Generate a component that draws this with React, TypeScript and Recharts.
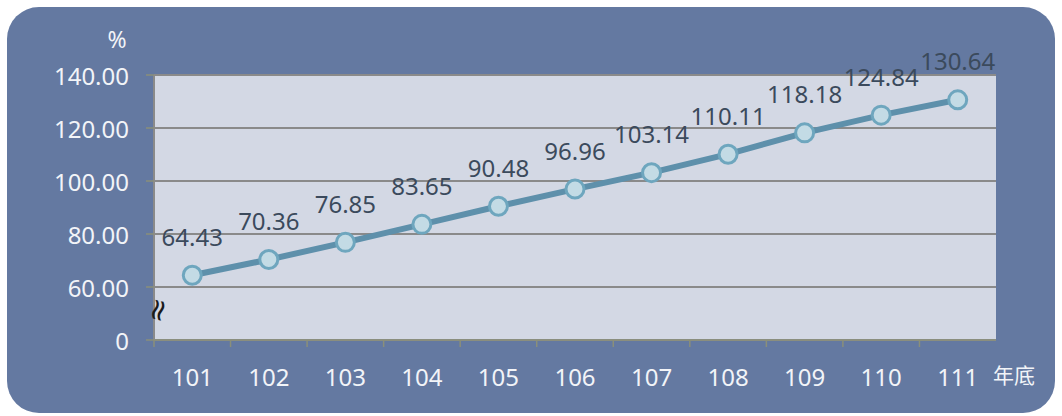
import React from "react";
import { LineChart, Line, XAxis, YAxis, CartesianGrid, LabelList } from "recharts";

const years = ["101", "102", "103", "104", "105", "106", "107", "108", "109", "110", "111"];
const values = [64.43, 70.36, 76.85, 83.65, 90.48, 96.96, 103.14, 110.11, 118.18, 124.84, 130.64];
const yTickLabels = ["0", "60.00", "80.00", "100.00", "120.00", "140.00"];
const yTickValues = [0, 60, 80, 100, 120, 140];

// Broken axis: 0 -> 0, 60 -> 1, then each 20 units -> 1 step
const toScale = (v: number) => (v <= 0 ? 0 : v < 60 ? v / 60 : (v - 40) / 20);

const data = years.map((y, i) => ({ year: y, value: values[i], scaled: toScale(values[i]) }));
const yTicks = yTickValues.map(toScale);

const FONT = "'Noto Sans', 'Open Sans', sans-serif";

const XTick = (props: any) => {
  const { x, payload } = props;
  const band = 842 / years.length;
  const bx = x - band / 2;
  return (
    <g>
      <line x1={bx} y1={340} x2={bx} y2={347} stroke="#8a8f7a" strokeWidth={1.5} />
      <text x={x} y={376} textAnchor="middle" dominantBaseline="central" fill="#f2f4f8" fontSize={24} fontFamily={FONT}>
        {payload.value}
      </text>
    </g>
  );
};

const YTick = (props: any) => {
  const { y, payload } = props;
  const idx = yTicks.indexOf(payload.value);
  return (
    <g>
      <line x1={146} y1={y} x2={154} y2={y} stroke="#8a8f7a" strokeWidth={1.5} />
      <text x={129} y={y} textAnchor="end" dominantBaseline="central" fill="#f2f4f8" fontSize={24} fontFamily={FONT}>
        {yTickLabels[idx]}
      </text>
      {payload.value === 0 ? (
        <text x={157} y={y - 30} textAnchor="middle" dominantBaseline="central" fill="#1a1a1a" fontSize={30} fontFamily="'DejaVu Sans', sans-serif" transform={`rotate(-75 157 ${y - 30})`}>
          ≈
        </text>
      ) : null}
    </g>
  );
};

const ValueLabel = (props: any) => {
  const { x, y, value } = props;
  return (
    <text x={x} y={y - 39} textAnchor="middle" dominantBaseline="central" fill="#3b4a5c" fontSize={24} fontFamily={FONT}>
      {Number(value).toFixed(2)}
    </text>
  );
};

export default function App() {
  return (
    <div style={{ position: "absolute", left: 0, top: 0, width: 1062, height: 416, overflow: "hidden", background: "#ffffff" }}>
      <div style={{ position: "absolute", left: 7, top: 7, width: 1048, height: 406, borderRadius: 32, background: "#6479a1" }} />
      <div style={{ position: "absolute", left: 0, top: 0 }}>
        <LineChart width={1062} height={416} data={data} margin={{ top: 75, right: 66, bottom: 36, left: 94 }}>
          <CartesianGrid vertical={false} horizontal={true} stroke="#8a8a8a" strokeWidth={2} fill="#d3d8e4" />
          <XAxis
            dataKey="year"
            scale="band"
            height={40}
            axisLine={{ stroke: "#8a8f7a", strokeWidth: 1.5 }}
            tickLine={false}
            tick={<XTick />}
            interval={0}
          />
          <YAxis
            type="number"
            dataKey="scaled"
            domain={[0, 5]}
            ticks={yTicks}
            width={60}
            axisLine={{ stroke: "#8a8a8a", strokeWidth: 2 }}
            tickLine={false}
            tick={<YTick />}
            interval={0}
            allowDataOverflow
          />
          <Line
            type="linear"
            dataKey="scaled"
            stroke="#5e90ab"
            strokeWidth={6}
            dot={{ r: 9, fill: "#c3dbe5", stroke: "#6ea6be", strokeWidth: 3 }}
            isAnimationActive={false}
          >
            <LabelList dataKey="value" content={<ValueLabel />} />
          </Line>
          <text x={117} y={39} textAnchor="middle" dominantBaseline="central" fill="#f2f4f8" fontSize={23} fontFamily={FONT}>%</text>
          <text x={1014} y={374} textAnchor="middle" dominantBaseline="central" fill="#f2f4f8" fontSize={21} fontFamily="'Noto Sans CJK TC', sans-serif">年底</text>
        </LineChart>
      </div>
    </div>
  );
}
